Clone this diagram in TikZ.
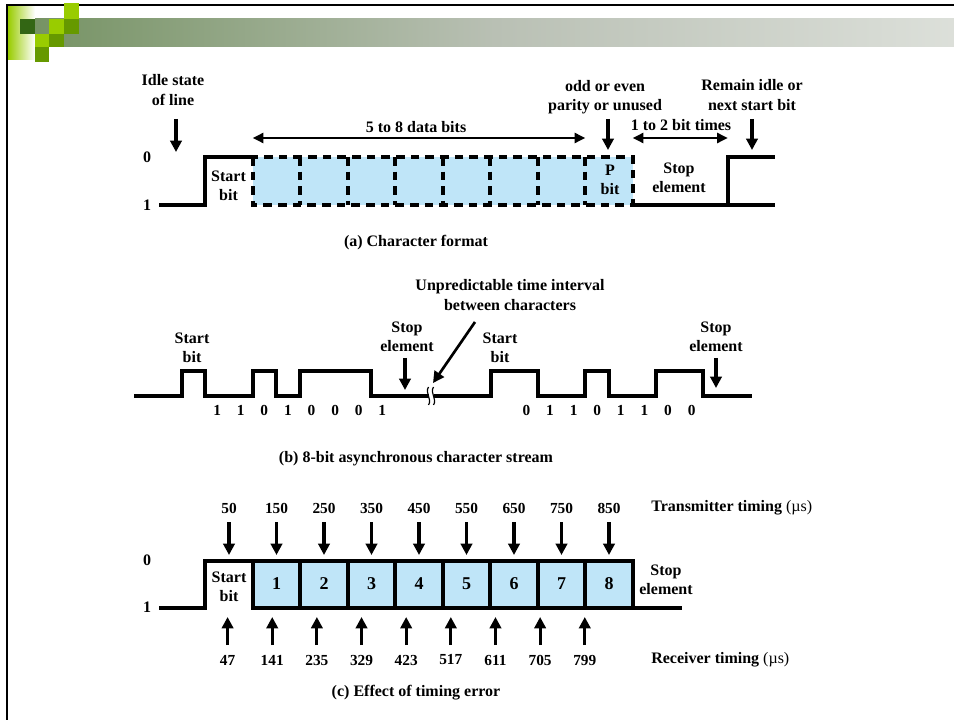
\documentclass[tikz,border=0pt]{standalone}
\usepackage{fontspec}
\setmainfont{Liberation Serif}
\usepackage{xcolor}
\usetikzlibrary{positioning, arrows.meta}
\definecolor{bitBlue}{RGB}{191, 229, 248}
\definecolor{slDark}{RGB}{51, 102, 20}
\definecolor{slMid}{RGB}{102, 153, 0}
\definecolor{slLime}{RGB}{153, 204, 0}
\definecolor{slGrey}{RGB}{185, 192, 180}
\pgfdeclarehorizontalshading{slBar}{100bp}{color(0bp)=(slDark); color(50bp)=(slGrey); color(100bp)=(white)}

\begin{document}
\begin{tikzpicture}[x=0.75pt, y=-0.75pt,
  lbl/.style={font=\bfseries\fontsize{12}{14.5}\selectfont, align=center, inner sep=0pt},
  num/.style={font=\bfseries\fontsize{11.5}{13}\selectfont, inner sep=0pt},
  big/.style={font=\bfseries\fontsize{13.5}{15}\selectfont, inner sep=0pt},
  capt/.style={font=\bfseries\fontsize{12}{14}\selectfont, inner sep=0pt},
  sig/.style={line width=3pt},
  dsh/.style={line width=3pt, dash pattern=on 6.5pt off 4.5pt},
  arr/.style={line width=2.4pt, -{Triangle[length=8.5pt, width=8.5pt]}},
  span/.style={line width=1.8pt, {Triangle[length=8pt, width=7.5pt]}-{Triangle[length=8pt, width=7.5pt]}}]
  \useasboundingbox (0,0) rectangle (954,720);

  % Slide frame
  \draw[line width=1.5pt] (7,720) -- (7,5) -- (954,5);
  \fill[left color=slLime, right color=white] (8,7) rectangle (35,60);
  \shade[shading=slBar] (35,19) rectangle (954,47);
  \fill[slDark] (20,19) rectangle (35,34);
  \fill[slLime] (49,19) rectangle (64,34);
  \fill[slLime] (35,34) rectangle (49,47);
  \fill[slMid] (49,34) rectangle (64,47);
  \fill[slMid] (35,47) rectangle (49,62);
  \fill[slLime] (64,3) rectangle (79,19);
  \fill[slMid] (64,19) rectangle (79,34);

  % (a) Character format
  \filldraw[fill=bitBlue, dsh] (252.75,157) rectangle (632.75,205);
  \foreach \x in {300.25,347.75,395.25,442.75,490.25,537.75,585.25}
    \draw[dsh] (\x,157) -- (\x,205);
  \draw[sig] (159,205) -- (205.25,205) -- (205.25,157) -- (252.75,157);
  \draw[sig] (632.75,205) -- (775.25,205);
  \draw[sig] (727.75,205) -- (727.75,157) -- (775.25,157);

  \node[lbl] (zeroA) at (147,157) {0};
  \node[lbl] (oneA) at (147,205) {1};
  \node[lbl] (idle) at (173,90) {Idle state\\of line};
  \node[lbl] (startA) at (228.5,186) {Start\\bit};
  \node[lbl] (pbit) at (610,180) {P\\bit};
  \node[lbl] (stopA) at (679,178) {Stop\\element};
  \node[lbl] (dataA) at (416,127) {5 to 8 data bits};
  \node[lbl] (parity) at (605,97) {odd or even\\parity or unused};
  \node[lbl] (times) at (681,125) {1 to 2 bit times};
  \node[lbl] (remain) at (752,95) {Remain idle or\\next start bit};
  \node[capt] (capA) at (416,243) {(a) Character format};

  \coordinate (idleTail) at (176,119);
  \coordinate (idleTip) at (176,152);
  \coordinate (parTail) at (608,119);
  \coordinate (parTip) at (608,150);
  \coordinate (remTail) at (752,119);
  \coordinate (remTip) at (752,150);
  \draw[arr] (idleTail) -- (idleTip);
  \draw[arr] (parTail) -- (parTip);
  \draw[arr] (remTail) -- (remTip);

  \coordinate (dataL) at (252.75,138);
  \coordinate (dataR) at (585.25,138);
  \coordinate (timesL) at (632.75,138);
  \coordinate (timesR) at (727.75,138);
  \draw[span] (dataL) -- (dataR);
  \draw[span] (timesL) -- (timesR);

  % (b) Character stream
  \draw[sig] (134,396) -- (181.7,396) -- (181.7,371) -- (205.3,371) -- (205.3,396)
    -- (252.5,396) -- (252.5,371) -- (276.1,371) -- (276.1,396) -- (299.7,396)
    -- (299.7,371) -- (370.5,371) -- (370.5,396) -- (428.5,396);
  \draw[sig] (433.5,396) -- (491,396) -- (491,371) -- (538.2,371) -- (538.2,396)
    -- (585.4,396) -- (585.4,371) -- (609,371) -- (609,396) -- (656.2,396)
    -- (656.2,371) -- (703.4,371) -- (703.4,396) -- (752,396);
  \foreach \x in {428.5,433.5}
    \draw[line width=0.9pt] (\x,387) .. controls (\x-4,393) and (\x+4,399) .. (\x,405);

  \foreach \b [count=\i] in {1,1,0,1,0,0,0,1}
    \node[num] (bitL\i) at (193.5+23.6*\i,410) {\b};
  \foreach \b [count=\i] in {0,1,1,0,1,1,0,0}
    \node[num] (bitR\i) at (502.8+23.6*\i,410) {\b};

  \node[lbl] (startB1) at (192,348) {Start\\bit};
  \node[lbl] (stopB1) at (407,337) {Stop\\element};
  \node[lbl] (startB2) at (500,348) {Start\\bit};
  \node[lbl] (stopB2) at (716,337) {Stop\\element};
  \node[lbl] (unpred) at (510,295) {Unpredictable time interval\\between characters};
  \node[capt] (capB) at (416,459) {(b) 8-bit asynchronous character stream};

  \coordinate (stop1Tail) at (405,358);
  \coordinate (stop1Tip) at (405,390);
  \coordinate (stop2Tail) at (716,358);
  \coordinate (stop2Tip) at (716,388);
  \coordinate (gapTail) at (475,322);
  \coordinate (gapTip) at (433,383);
  \draw[arr] (stop1Tail) -- (stop1Tip);
  \draw[arr] (stop2Tail) -- (stop2Tip);
  \draw[arr, line width=2pt] (gapTail) -- (gapTip);

  % (c) Timing error
  \filldraw[fill=bitBlue, sig] (252.75,560.5) rectangle (632.75,608);
  \foreach \x in {300.25,347.75,395.25,442.75,490.25,537.75,585.25}
    \draw[sig] (\x,560.5) -- (\x,608);
  \draw[sig] (159,608) -- (205.25,608) -- (205.25,560.5) -- (632.75,560.5)
    -- (632.75,608) -- (682,608);
  \foreach \i in {1,...,8}
    \node[big] (box\i) at (229+47.5*\i,584) {\i};

  \node[lbl] (zeroC) at (147,560) {0};
  \node[lbl] (oneC) at (147,607) {1};
  \node[lbl] (startC) at (229,587) {Start\\bit};
  \node[lbl] (stopC) at (666,580) {Stop\\element};

  \foreach \t in {50,150,...,850} {
    \node[num] (tx\t) at (205.25+0.475*\t,508) {\t};
    \coordinate (txTail\t) at (205.25+0.475*\t,522);
    \coordinate (txTip\t) at (205.25+0.475*\t,555);
    \draw[arr] (txTail\t) -- (txTip\t);
  }
  \foreach \t in {47,141,...,799} {
    \node[num] (rx\t) at (205.25+0.475*\t,660) {\t};
    \coordinate (rxTail\t) at (205.25+0.475*\t,645);
    \coordinate (rxTip\t) at (205.25+0.475*\t,617);
    \draw[arr] (rxTail\t) -- (rxTip\t);
  }

  \node[lbl, anchor=west] (txLabel) at (651,508) {Transmitter timing {\mdseries(µs)}};
  \node[lbl, anchor=west] (rxLabel) at (651,660) {Receiver timing {\mdseries(µs)}};
  \node[capt] (capC) at (416,693) {(c) Effect of timing error};
\end{tikzpicture}
\end{document}
